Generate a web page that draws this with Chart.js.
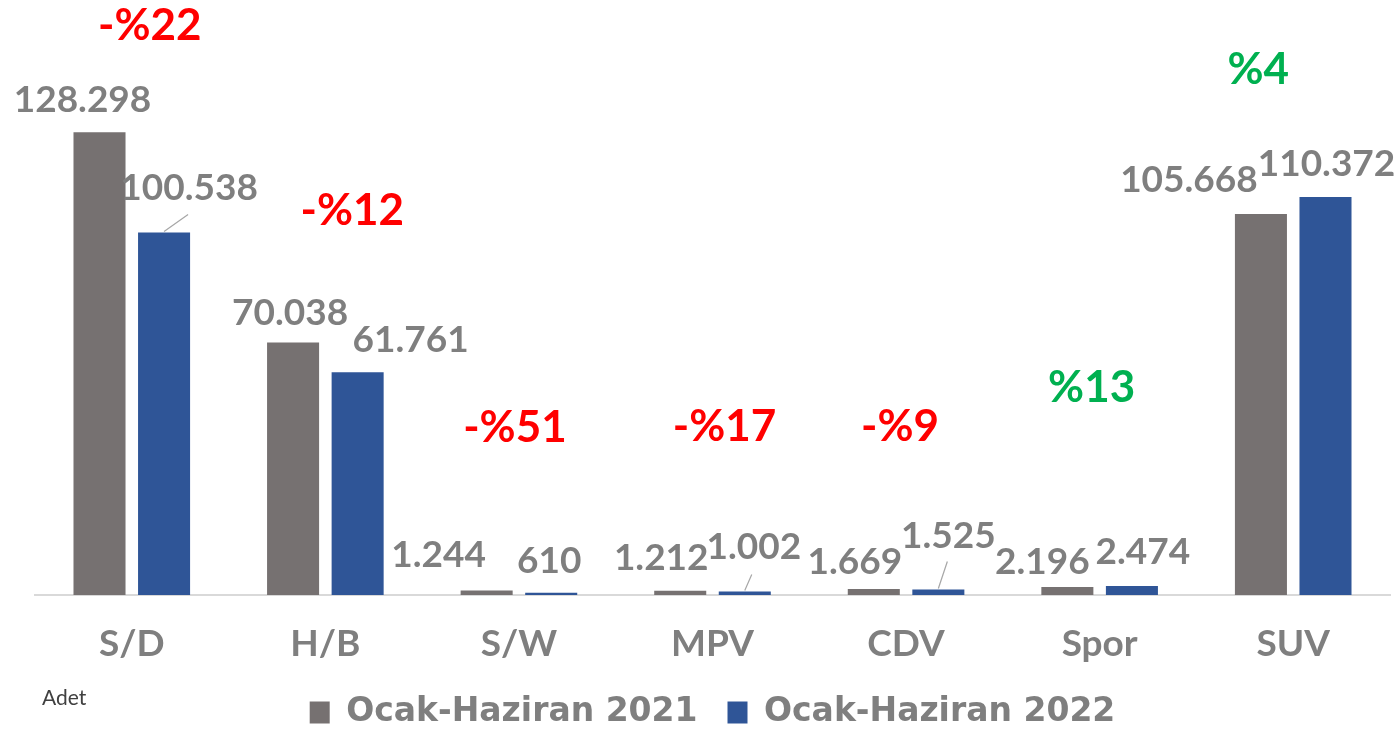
<!DOCTYPE html>
<html>
<head>
<meta charset="utf-8">
<script src="https://cdn.jsdelivr.net/npm/chart.js@4.4.0/dist/chart.umd.min.js"></script>
<style>
  html, body { margin: 0; padding: 0; background: #ffffff; }
  #wrap { width: 1396px; height: 731px; position: relative; }
</style>
</head>
<body>
<div id="wrap"><canvas id="c" width="1396" height="731"></canvas></div>
<script>
// ---- data ----
const categories = ['S/D', 'H/B', 'S/W', 'MPV', 'CDV', 'Spor', 'SUV'];
const seriesNames = ['Ocak-Haziran 2021', 'Ocak-Haziran 2022'];
const values2021 = [128298, 70038, 1244, 1212, 1669, 2196, 105668];
const values2022 = [100538, 61761, 610, 1002, 1525, 2474, 110372];
const unitLabel = 'Adet';
const yMax = 165000;

// ---- label placement (pixels, relative to bar top) ----
const labelOffsets2021 = [[-17, -32], [-3, -29], [-48, -35], [-19, -33], [-19, -27], [-25, -25], [-72, -34]];
const labelOffsets2022 = [[25, -44], [53, -32], [-2, -32], [9, -44], [10, -53], [11, -34], [1, -33]];
const leaders2022 = [[24, -18], null, null, [7, -17], [9, -28], null, null];
const pctOffsets = [[18, -107], [27, -132], [-4, -163], [12, -164], [-6, -162], [-8, -198], [-35, -127]];

const GRAY = '#767171';
const BLUE = '#2F5597';
const LABEL = '#7F7F7F';
const FONT = 'Lato, "Open Sans", sans-serif';
const LEGEND_FONT = '"DejaVu Sans", Lato, sans-serif';

function fmt(v) {
  return String(v).replace(/\B(?=(\d{3})+(?!\d))/g, '.');
}

const labelPlugin = {
  id: 'labels',
  afterDatasetsDraw(chart) {
    const ctx = chart.ctx;
    ctx.save();
    const m0 = chart.getDatasetMeta(0).data;
    const m1 = chart.getDatasetMeta(1).data;
    ctx.textAlign = 'center';
    ctx.textBaseline = 'middle';
    // leader lines
    ctx.strokeStyle = '#A6A6A6';
    ctx.lineWidth = 1.2;
    m1.forEach((el, i) => {
      const l = leaders2022[i];
      if (!l) return;
      ctx.beginPath();
      ctx.moveTo(el.x, el.y - 1);
      ctx.lineTo(el.x + l[0], el.y + l[1]);
      ctx.stroke();
    });
    // value labels
    ctx.font = 'bold 37px ' + FONT;
    ctx.fillStyle = LABEL;
    m0.forEach((el, i) => {
      const o = labelOffsets2021[i];
      ctx.fillText(fmt(values2021[i]), el.x + o[0], el.y + o[1]);
    });
    m1.forEach((el, i) => {
      const o = labelOffsets2022[i];
      ctx.fillText(fmt(values2022[i]), el.x + o[0], el.y + o[1]);
    });
    // percentage change labels
    ctx.font = 'bold 44px ' + FONT;
    categories.forEach((c, i) => {
      const a = values2021[i], b = values2022[i];
      const pct = Math.round((b - a) / a * 100);
      const txt = (pct < 0 ? '-%' : '%') + Math.abs(pct);
      const cx = (m0[i].x + m1[i].x) / 2;
      const top = Math.min(m0[i].y, m1[i].y);
      const o = pctOffsets[i];
      ctx.fillStyle = pct < 0 ? '#FF0000' : '#00B050';
      ctx.fillText(txt, cx + o[0], top + o[1]);
    });
    // unit label
    ctx.font = '21px ' + FONT;
    ctx.fillStyle = '#404040';
    ctx.textAlign = 'left';
    ctx.fillText(unitLabel, 42, 698);
    ctx.restore();
  }
};

new Chart(document.getElementById('c'), {
  type: 'bar',
  data: {
    labels: categories,
    datasets: [
      { label: seriesNames[0], data: values2021, backgroundColor: GRAY },
      { label: seriesNames[1], data: values2022, backgroundColor: BLUE }
    ]
  },
  options: {
    responsive: false,
    animation: false,
    devicePixelRatio: 1,
    categoryPercentage: 0.667,
    barPercentage: 0.806,
    layout: { padding: { left: 35, right: 6, top: 0, bottom: -8 } },
    scales: {
      x: {
        grid: {
          display: true,
          drawOnChartArea: false,
          drawTicks: true,
          tickLength: 28,
          tickColor: 'rgba(0,0,0,0)',
          color: 'rgba(0,0,0,0)'
        },
        border: { display: true, color: '#D9D9D9', width: 2 },
        ticks: {
          color: LABEL,
          font: { family: FONT, size: 37, weight: 'bold', lineHeight: 1 },
          padding: 3
        }
      },
      y: {
        display: false,
        min: 0,
        max: yMax
      }
    },
    plugins: {
      legend: {
        position: 'bottom',
        labels: {
          color: LABEL,
          font: { family: LEGEND_FONT, size: 33, weight: 'bold' },
          boxWidth: 20,
          boxHeight: 22,
          padding: 30
        }
      },
      tooltip: { enabled: false }
    }
  },
  plugins: [labelPlugin]
});
</script>
</body>
</html>
